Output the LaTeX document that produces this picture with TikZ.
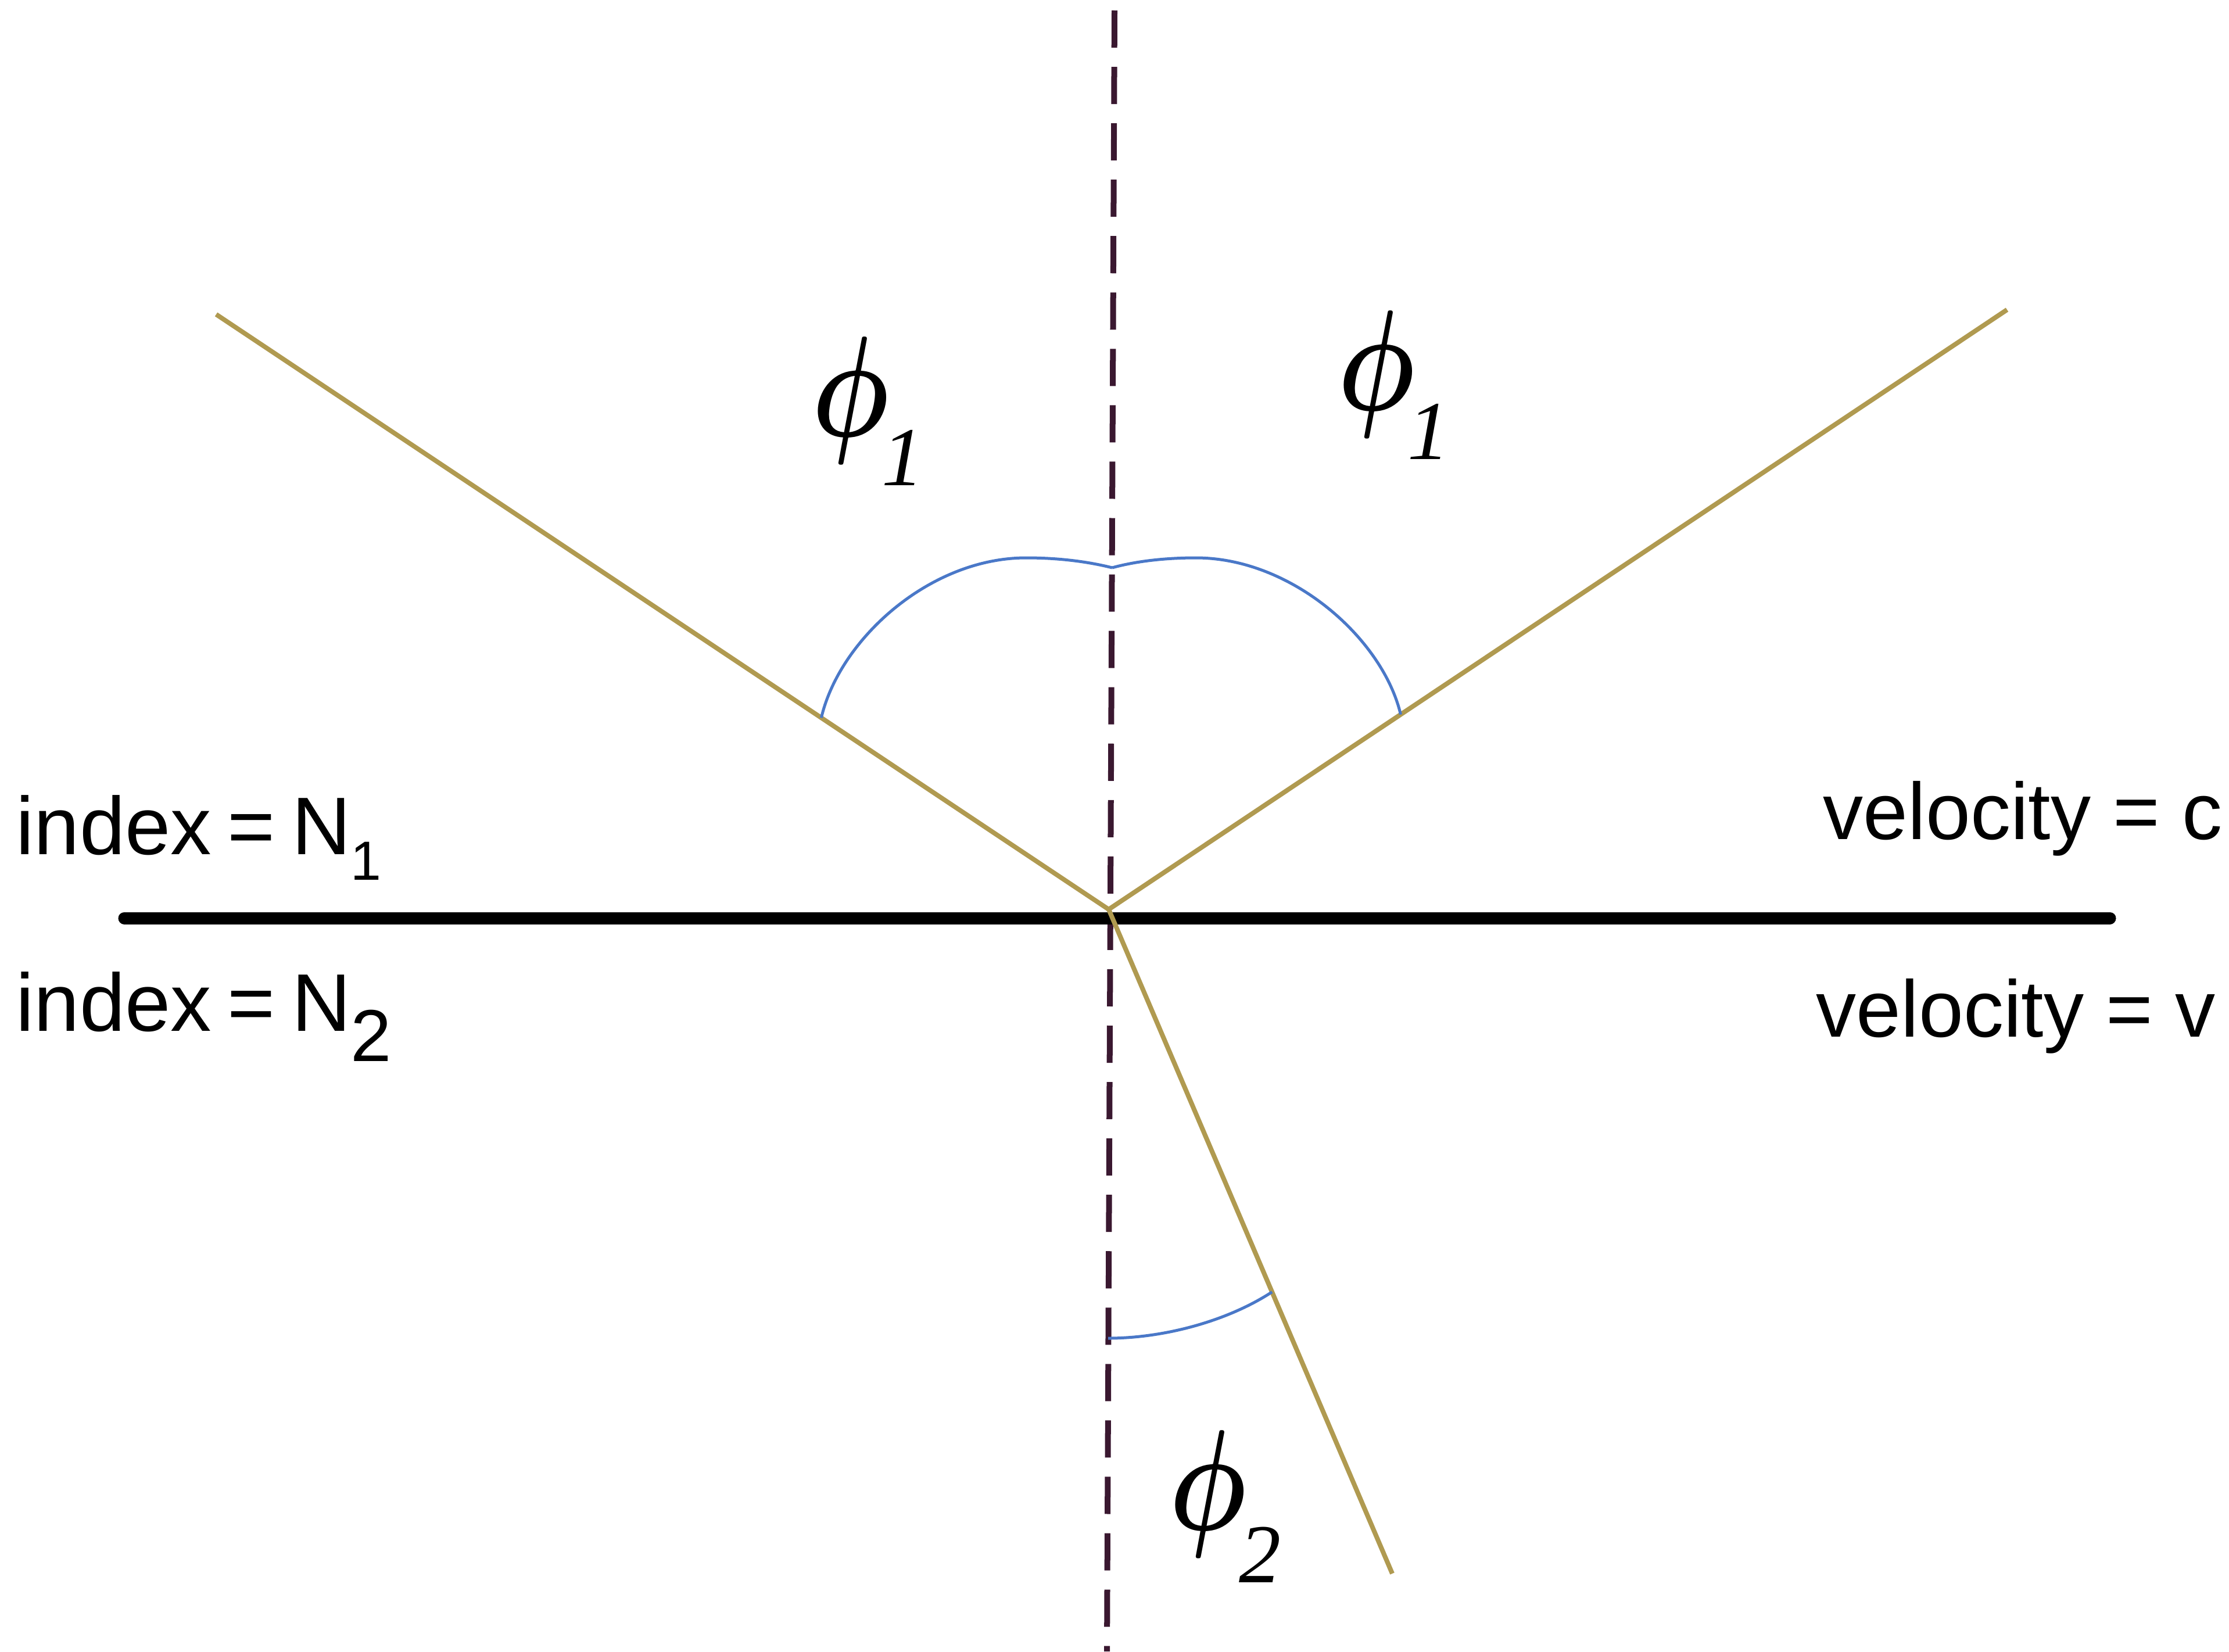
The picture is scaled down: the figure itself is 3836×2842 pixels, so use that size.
\documentclass[tikz,border=0pt]{standalone}
\usepackage{amsmath}
\usepackage{graphicx}
\usepackage{fontspec}
\setmainfont{Liberation Sans}
\newfontfamily\grk{Liberation Serif}
\usetikzlibrary{calc}
\definecolor{raycol}{HTML}{B09A50}
\definecolor{arccol}{HTML}{4A78C8}
\definecolor{normcol}{HTML}{3A1830}
\tikzset{
  ray/.style={draw=raycol, line width=0.08cm},
  anglearc/.style={draw=arccol, line width=0.05cm},
  normalline/.style={draw=normcol, line width=0.1cm, dash pattern=on 0.64cm off 0.33cm},
  boundary/.style={draw=black, line width=0.21cm, line cap=round},
  lab/.style={font=\fontsize{40}{48}\selectfont, inner sep=0pt, anchor=base west},
  vlab/.style={font=\fontsize{39.3}{48}\selectfont, inner sep=0pt, anchor=base west},
  philab/.style={inner sep=0pt, anchor=base west}
}
\newcommand{\phisub}[2]{\scalebox{5.3}[7]{\fontsize{10}{12}\selectfont$\boldsymbol{\phi}$}\kern-0.13cm\raisebox{#1}{\grk\fontsize{41}{48}\selectfont\itshape #2}}
\begin{document}
\begin{tikzpicture}[x=0.01cm,y=-0.01cm]
\useasboundingbox (0,0) rectangle (3836,2842);
\fill[white] (0,0) rectangle (3836,2842);
% points
\coordinate (O) at (1908,1565);
\coordinate (L) at (372,541);
\coordinate (R) at (3454,533);
\coordinate (D) at (2396,2708);
\coordinate (ntop) at (1918,18);
\coordinate (nbot) at (1905,2842);
\coordinate (bl) at (214,1580);
\coordinate (br) at (3631,1580);
% normal
\draw[normalline] (ntop) -- (nbot);
% boundary
\draw[boundary] (bl) -- (br);
% rays
\draw[ray] (O) -- (L);
\draw[ray] (O) -- (R);
\draw[ray] (O) -- (D);
% arcs
\coordinate (al) at ($(O)!0.322!(L)$);
\coordinate (ar) at ($(O)!0.325!(R)$);
\coordinate (ad) at ($(O)!0.576!(D)$);
\coordinate (atop) at (1914,977);
\coordinate (pl) at (1766,960);
\coordinate (pr) at (2058,960);
\coordinate (bs) at (1907,2303);
\draw[anglearc] (al) .. controls (1445,1100) and (1600,960) .. (pl)
   .. controls (1820,960) and (1870,966) .. (atop);
\draw[anglearc] (ar) .. controls (2380,1100) and (2224,960) .. (pr)
   .. controls (2004,960) and (1954,966) .. (atop);
\draw[anglearc] (bs) .. controls (2000,2303) and (2110,2275) .. (ad);
% labels
\node[lab] (n1) at (27,1470) {index\hspace{0.2em}=\hspace{0.2em}N\raisebox{-0.44cm}{\fontsize{27}{32}\selectfont 1}};
\node[lab] (n2) at (27,1774) {index\hspace{0.2em}=\hspace{0.2em}N\raisebox{-0.52cm}{\fontsize{36}{40}\selectfont 2}};
\node[vlab] (vc) at (3137,1444) {velocity = c};
\node[vlab] (vv) at (3125,1784) {velocity = v};
\node[philab] (p1l) at (1397,750) {\phisub{-0.85cm}{1}};
\node[philab] (p1r) at (2302,705) {\phisub{-0.85cm}{1}};
\node[philab] (p2) at (2012,2632) {\phisub{-0.91cm}{2}};
\end{tikzpicture}
\end{document}
